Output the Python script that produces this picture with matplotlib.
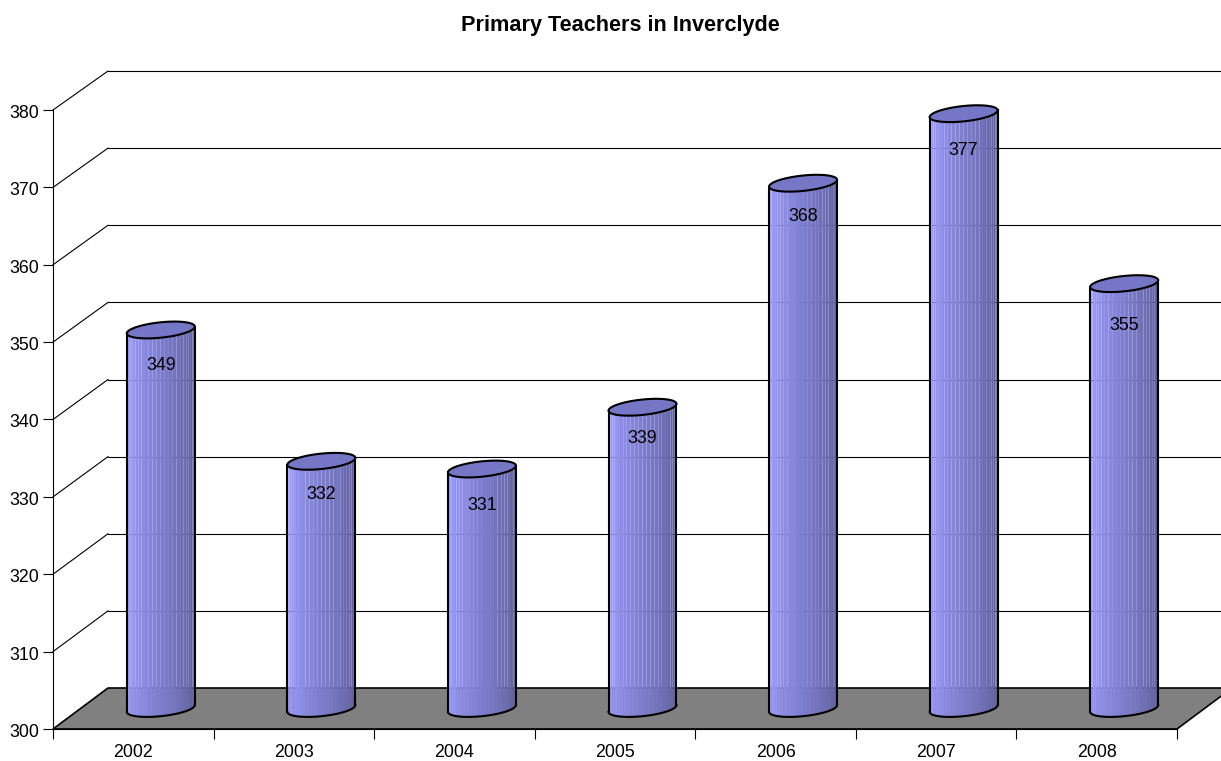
import numpy as np
import matplotlib
matplotlib.use("Agg")
import matplotlib.pyplot as plt
from matplotlib.colors import to_rgb
from matplotlib.transforms import ScaledTranslation

plt.rcParams['font.family'] = ['Liberation Sans', 'DejaVu Sans']

years = ['2002', '2003', '2004', '2005', '2006', '2007', '2008']
teachers = [349, 332, 331, 339, 368, 377, 355]
y_ticks = [300, 310, 320, 330, 340, 350, 360, 370, 380]
label_drop = [36, 33, 36, 31, 33, 37, 42]  # px under the cap, differs per bar

W, H = 1221, 761
fig = plt.figure(figsize=(W / 100, H / 100), dpi=100)
# axes is the front plane of the 3d box
ax = fig.add_axes([53 / W, 1 - 729 / H, 1124 / W, 619 / H])
ax.set_xlim(0, 7)
ax.set_ylim(300, 380)

# px to data units
px_x = 7 / 1124
px_y = 80 / 619
depth_x = 55 * px_x
depth_y = 41 * px_y
back_scale = 0.9967  # back wall is a touch shorter than the front


def at_depth(v, frac):
    return 300 + depth_y * frac + (v - 300) * (1 - (1 - back_scale) * frac)


# floor
floor_x = [0, 7, 7 + depth_x, depth_x]
floor_y = [300, 300, 300 + depth_y, 300 + depth_y]
ax.fill(floor_x, floor_y, fc='#808080', ec='black', lw=1.2, clip_on=False, zorder=1)

# walls
for v in y_ticks[1:]:
    ax.plot([0, depth_x], [v, at_depth(v, 1)], c='black', lw=0.8, clip_on=False, zorder=1)
    ax.plot([depth_x, 7 + depth_x], [at_depth(v, 1)] * 2, c='black', lw=0.8,
            clip_on=False, zorder=1)

light = np.array(to_rgb('#9c9cff'))
dark = np.array(to_rgb('#5a5a96'))
a = 34  # half width in px
b = 7.7
tilt = 0.1
n_facets = 26

for i, val in enumerate(teachers):
    cx = i + 0.5 + depth_x / 2
    top = at_depth(val, 0.5)
    base = at_depth(300, 0.5)
    t = np.linspace(np.pi, 2 * np.pi, n_facets + 1)
    ex = a * np.cos(t) * px_x
    ey = (tilt * a * np.cos(t) + b * np.sin(t)) * px_y
    # body, one facet at a time so the seams show
    for k in range(n_facets):
        f = k / (n_facets - 1)
        c = light + (dark - light) * max(0, f - 0.08) / 0.92
        xs = [cx + ex[k], cx + ex[k + 1], cx + ex[k + 1], cx + ex[k]]
        ys = [top + tilt * a * np.cos(t[k]) * px_y, top + tilt * a * np.cos(t[k + 1]) * px_y,
              base + ey[k + 1], base + ey[k]]
        ax.fill(xs, ys, fc=c, ec='none', clip_on=False, zorder=2)
    # outline
    ax.plot(cx + ex, base + ey, c='black', lw=1.5, clip_on=False, zorder=3)
    ax.plot([cx - a * px_x] * 2, [base - tilt * a * px_y, top - tilt * a * px_y], c='black',
            lw=1.5, clip_on=False, zorder=3)
    ax.plot([cx + a * px_x] * 2, [base + tilt * a * px_y, top + tilt * a * px_y], c='black',
            lw=1.5, clip_on=False, zorder=3)
    # cap
    t2 = np.linspace(0, 2 * np.pi, 80)
    ax.fill(cx + a * np.cos(t2) * px_x, top + (tilt * a * np.cos(t2) + b * np.sin(t2)) * px_y,
            fc='#7676c6', ec='black', lw=1.5, clip_on=False, zorder=3)
    ax.text(cx, top - label_drop[i] * px_y, str(val), ha='center', va='center',
            fontsize=12.8, color='black', zorder=4)

ax.spines['top'].set_visible(False)
ax.spines['right'].set_visible(False)
ax.patch.set_visible(False)

ax.set_yticks(y_ticks)
ax.tick_params(axis='y', length=7, width=0.8, labelsize=12.8, pad=3)
nudge = ScaledTranslation(0, -1.5 / 100, fig.dpi_scale_trans)
for lab in ax.get_yticklabels():
    lab.set_transform(lab.get_transform() + nudge)
ax.set_xticks(np.arange(0, 8))
ax.set_xticklabels([])
ax.set_xticks(np.arange(7) + 0.5, labels=years, minor=True)
ax.tick_params(axis='x', which='major', length=7, width=0.8)
ax.tick_params(axis='x', which='minor', length=0, labelsize=12.8, pad=11)

fig.text(620 / W, 1 - 25 / H, 'Primary Teachers in Inverclyde', ha='center', va='center',
         fontsize=15.6, fontweight='bold')

fig.savefig('out.png', dpi=100)
